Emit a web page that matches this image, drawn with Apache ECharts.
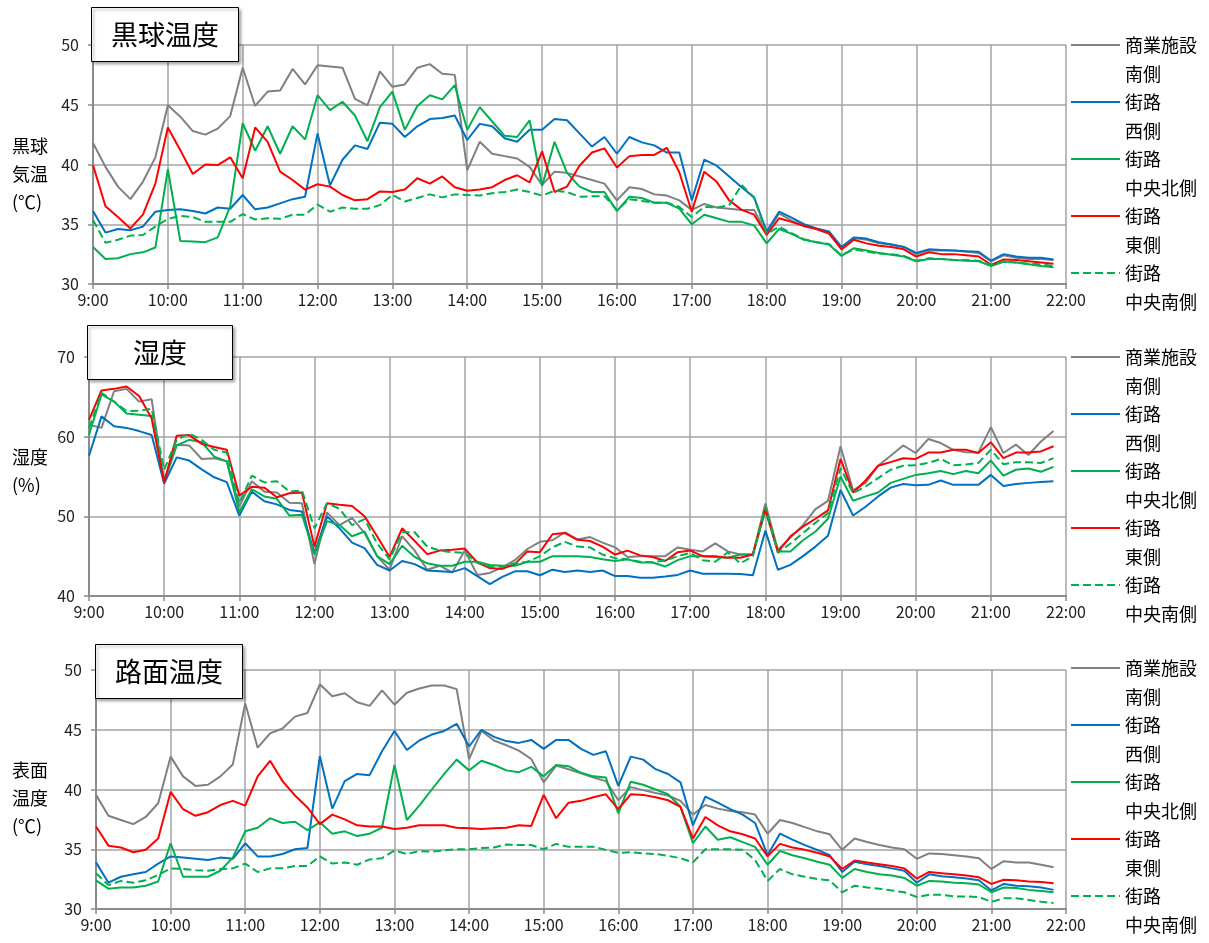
<!DOCTYPE html>
<html lang="ja">
<head>
<meta charset="utf-8">
<title>黒球温度・湿度・路面温度</title>
<script src="https://cdn.jsdelivr.net/npm/echarts@6/dist/echarts.min.js"></script>
<style>
  html, body { margin: 0; padding: 0; background: #fff; }
  #chart { width: 1209px; height: 943px; }
</style>
</head>
<body>
<div id="chart"></div>
<script>
// 測定地点(凡例)
const seriesNames = ['商業施設\n南側', '街路\n西側', '街路\n中央北側', '街路\n東側', '街路\n中央南側'];

// 10分ごとの時刻 (9:00〜22:00)
const timeLabels = [];
for (let h = 9; h < 22; h++) {
  for (let m = 0; m < 60; m += 10) timeLabels.push(h + ':' + (m === 0 ? '00' : m));
}
timeLabels.push('22:00');

// 黒球温度 (℃)
const globeShogyo = [
  41.8, 39.8, 38.15, 37.1, 38.55, 40.6,
  44.95, 44.0, 42.8, 42.5, 43.0, 44.05,
  48.1, 44.9, 46.1, 46.2, 48.0, 46.7,
  48.3, 48.2, 48.1, 45.5, 44.95, 47.8,
  46.5, 46.7, 48.1, 48.4, 47.6, 47.5,
  39.5, 41.9, 40.9, 40.7, 40.5, 39.8,
  38.3, 39.4, 39.3, 39.0, 38.7, 38.4,
  37.0, 38.1, 37.95, 37.5, 37.4, 37.0,
  36.2, 36.7, 36.4, 36.3, 36.2, 36.2,
  34.2, 35.9, 35.3, 34.85, 34.6, 34.2,
  33.0, 33.85, 33.7, 33.4, 33.3, 33.1,
  32.5, 32.8, 32.8, 32.8, 32.7, 32.6,
  31.9, 32.4, 32.2, 32.1, 32.1, 32.0
];
const globeNishi = [
  36.1, 34.3, 34.6, 34.5, 34.8, 36.05,
  36.2, 36.25, 36.1, 35.9, 36.4, 36.3,
  37.45, 36.25, 36.4, 36.75, 37.1, 37.3,
  42.6, 38.25, 40.4, 41.6, 41.3, 43.5,
  43.4, 42.3, 43.2, 43.8, 43.9, 44.1,
  42.05, 43.4, 43.2, 42.2, 41.9, 42.9,
  42.9, 43.8, 43.7, 42.6, 41.5, 42.3,
  40.9, 42.3, 41.85, 41.6, 41.0, 41.0,
  37.0, 40.4, 39.9, 39.0, 38.1, 37.25,
  34.4, 36.05, 35.55, 35.0, 34.65, 34.4,
  33.1, 33.9, 33.8, 33.5, 33.3, 33.1,
  32.6, 32.9, 32.85, 32.8, 32.75, 32.7,
  31.95, 32.5, 32.3, 32.2, 32.2, 32.05
];
const globeChuoKita = [
  33.1, 32.1, 32.15, 32.5, 32.65, 33.05,
  39.6, 33.6, 33.55, 33.5, 33.9, 36.5,
  43.45, 41.15, 43.2, 40.9, 43.2, 42.1,
  45.8, 44.55, 45.25, 44.1, 41.95, 44.8,
  46.1, 42.9, 44.9, 45.8, 45.45, 46.65,
  42.9, 44.8, 43.6, 42.4, 42.3, 43.7,
  38.2, 41.9, 39.3, 38.15, 37.7, 37.7,
  36.1, 37.3, 37.2, 36.8, 36.8, 36.3,
  35.0, 35.8, 35.5, 35.2, 35.2, 34.9,
  33.4, 34.6, 34.2, 33.7, 33.5, 33.3,
  32.35, 33.0, 32.8, 32.6, 32.45, 32.3,
  31.9, 32.1, 32.1, 32.0, 31.95, 31.9,
  31.5, 31.85, 31.8, 31.65, 31.5, 31.4
];
const globeHigashi = [
  39.95, 36.5, 35.6, 34.65, 35.8, 38.4,
  43.1, 41.2, 39.2, 40.0, 39.95, 40.6,
  38.85, 43.1, 41.9, 39.4, 38.7, 37.9,
  38.35, 38.15, 37.45, 37.0, 37.1, 37.75,
  37.7, 37.9, 38.85, 38.4, 39.0, 38.1,
  37.8, 37.9, 38.1, 38.7, 39.1, 38.5,
  41.1, 37.7, 38.15, 39.9, 41.0, 41.35,
  39.75, 40.7, 40.8, 40.8, 41.4, 39.35,
  36.05, 39.4, 38.55, 37.0, 36.2, 35.8,
  34.1, 35.5, 35.2, 34.85, 34.6, 34.25,
  32.9, 33.7, 33.4, 33.2, 33.1, 32.9,
  32.3, 32.65, 32.5, 32.5, 32.4, 32.3,
  31.6, 32.05, 32.0, 31.9, 31.8, 31.7
];
const globeChuoMinami = [
  35.35, 33.45, 33.7, 34.05, 34.1, 34.8,
  35.45, 35.7, 35.6, 35.2, 35.2, 35.2,
  35.85, 35.4, 35.5, 35.45, 35.8, 35.8,
  36.65, 36.05, 36.4, 36.3, 36.3, 36.6,
  37.45, 36.9, 37.2, 37.5, 37.25, 37.5,
  37.45, 37.4, 37.6, 37.7, 37.9, 37.7,
  37.4, 37.8, 37.7, 37.3, 37.35, 37.35,
  36.2, 37.1, 36.95, 36.8, 36.8, 36.45,
  35.6, 36.45, 36.4, 36.6, 38.3, 37.2,
  34.2, 34.8, 34.25, 33.75, 33.5, 33.35,
  32.4, 32.9, 32.7, 32.55, 32.5, 32.35,
  31.95, 32.15, 32.1, 32.0, 32.0, 31.95,
  31.6, 31.9, 31.8, 31.7, 31.65, 31.5
];

// 湿度 (%)
const humShogyo = [
  61.5, 61.1, 65.7, 66.0, 64.4, 64.7,
  54.2, 59.0, 58.9, 57.2, 57.3, 56.9,
  51.25, 54.4, 53.1, 53.0, 51.7, 51.65,
  44.0, 50.5, 48.9, 49.8, 47.9, 45.0,
  43.3, 47.5, 45.7, 43.3, 43.8, 42.95,
  45.7, 42.65, 42.9, 43.6, 44.5, 45.9,
  46.8, 47.0, 48.0, 47.1, 47.4, 46.7,
  46.1, 44.9, 45.0, 45.0, 45.0, 46.1,
  45.8, 45.6, 46.6, 45.6, 45.2, 45.2,
  51.6, 45.8, 47.3, 48.9, 50.9, 51.95,
  58.8, 53.25, 54.2, 56.35, 57.6, 58.9,
  57.95, 59.7, 59.2, 58.35, 58.05, 58.0,
  61.2, 57.95, 59.0, 57.7, 59.4, 60.7
];
const humNishi = [
  57.6, 62.55, 61.3, 61.1, 60.7, 60.2,
  54.1, 57.4, 57.0, 55.9, 54.9, 54.3,
  50.1, 53.1, 51.9, 51.5, 50.8, 50.6,
  45.4, 50.0, 48.5, 46.7, 46.0, 43.9,
  43.2, 44.4, 44.0, 43.2, 43.1, 43.0,
  43.5, 42.5, 41.5, 42.4, 43.1, 43.1,
  42.6, 43.3, 43.0, 43.2, 43.0, 43.2,
  42.5, 42.5, 42.3, 42.3, 42.45, 42.65,
  43.2, 42.8, 42.8, 42.8, 42.75, 42.6,
  48.2, 43.3, 43.9, 45.0, 46.2, 47.55,
  53.3, 50.1, 51.2, 52.5, 53.6, 54.05,
  53.9, 53.95, 54.5, 53.95, 53.95, 53.95,
  55.2, 53.8, 54.05, 54.2, 54.3, 54.4
];
const humChuoKita = [
  60.2, 65.3, 64.4, 62.9, 62.75, 62.6,
  54.5, 58.9, 59.6, 59.3, 57.5, 56.9,
  50.5, 53.4, 52.5, 52.2, 50.1, 50.2,
  45.2, 49.4, 48.9, 47.5, 48.1, 45.0,
  44.0, 46.3, 44.9, 44.1, 43.8, 43.8,
  44.3, 44.3, 43.9, 43.8, 43.8, 44.3,
  44.3, 45.0, 45.0, 45.0, 44.9, 44.6,
  44.4, 44.6, 44.2, 44.2, 43.7, 44.5,
  45.0, 45.0, 44.9, 44.8, 45.2, 45.2,
  50.7, 45.6, 45.6, 47.0, 48.1, 49.7,
  55.0, 51.95, 52.5, 53.0, 54.2, 54.7,
  55.2, 55.4, 55.7, 55.3, 55.7, 55.4,
  57.0, 55.1, 55.85, 56.0, 55.6, 56.2
];
const humHigashi = [
  62.1, 65.8, 66.0, 66.3, 65.1, 62.3,
  54.25, 60.1, 60.2, 59.1, 58.7, 58.35,
  52.6, 53.7, 53.6, 52.4, 52.9, 53.0,
  46.2, 51.65, 51.45, 51.3, 50.0, 47.5,
  44.9, 48.5, 46.9, 45.25, 45.7, 45.8,
  45.95, 44.2, 43.5, 43.4, 44.0, 45.6,
  45.5, 47.75, 47.9, 47.05, 46.9, 46.2,
  45.2, 45.7, 45.1, 44.9, 44.4, 45.5,
  45.7, 45.0, 45.0, 44.8, 44.8, 45.2,
  51.0, 45.5, 47.5, 48.7, 49.7, 50.75,
  57.2, 53.0, 54.5, 56.35, 56.8, 57.3,
  57.2, 58.0, 58.0, 58.35, 58.35, 57.95,
  59.3, 57.3, 58.0, 58.0, 58.15, 58.8
];
const humChuoMinami = [
  61.1, 65.5, 64.4, 63.2, 63.25, 63.5,
  55.85, 59.6, 60.4, 59.6, 58.35, 58.0,
  51.65, 55.1, 54.25, 54.4, 53.1, 53.25,
  48.5, 51.65, 50.95, 48.9, 49.65, 46.6,
  44.6, 48.0, 48.0, 46.2, 45.7, 45.5,
  45.4, 44.2, 43.7, 43.7, 44.1, 44.3,
  45.0, 46.1, 46.8, 46.2, 46.1, 45.2,
  44.75, 44.6, 44.3, 44.25, 44.45, 45.0,
  45.4, 44.5, 44.3, 45.5, 44.1, 45.0,
  51.2, 45.4, 46.6, 47.9, 49.2, 50.4,
  56.05, 52.9, 53.75, 54.8, 55.85, 56.35,
  56.4, 56.7, 57.2, 56.4, 56.5, 56.7,
  58.35, 56.55, 56.8, 56.8, 56.7, 57.3
];

// 路面温度 (℃)
const roadShogyo = [
  39.55, 37.8, 37.45, 37.1, 37.7, 38.85,
  42.75, 41.1, 40.3, 40.4, 41.1, 42.1,
  47.2, 43.5, 44.7, 45.1, 46.1, 46.4,
  48.8, 47.8, 48.05, 47.3, 47.0, 48.3,
  47.1, 48.1, 48.45, 48.7, 48.7, 48.4,
  42.55, 44.9, 44.1, 43.7, 43.25, 42.55,
  40.6, 42.0, 41.7, 41.35, 41.0, 40.7,
  39.1, 40.2, 39.95, 39.7, 39.5, 39.05,
  37.9, 38.7, 38.4, 38.2, 38.1, 37.9,
  36.3, 37.45, 37.2, 36.85, 36.5, 36.25,
  34.95, 35.9, 35.6, 35.35, 35.15, 35.0,
  34.2, 34.65, 34.6, 34.5, 34.4, 34.25,
  33.35, 34.0, 33.9, 33.9, 33.7, 33.5
];
const roadNishi = [
  33.9, 32.2, 32.7, 32.9, 33.1, 33.8,
  34.4, 34.3, 34.2, 34.1, 34.3, 34.2,
  35.5, 34.4, 34.4, 34.6, 35.0, 35.1,
  42.8, 38.4, 40.7, 41.3, 41.2, 43.2,
  44.9, 43.3, 44.1, 44.6, 44.9, 45.5,
  43.6, 45.0, 44.4, 44.05, 43.9, 44.15,
  43.4, 44.15, 44.15, 43.4, 42.9, 43.2,
  40.3, 42.75, 42.5, 41.7, 41.3, 40.6,
  37.0, 39.4, 38.9, 38.35, 37.9, 37.2,
  34.5, 36.3, 35.8, 35.35, 34.95, 34.5,
  33.1, 33.95, 33.75, 33.6, 33.4, 33.2,
  32.2, 32.9, 32.75, 32.65, 32.55, 32.4,
  31.55, 32.1, 31.95, 31.9, 31.8, 31.6
];
const roadChuoKita = [
  32.4, 31.7, 31.8, 31.8, 31.95, 32.3,
  35.5, 32.7, 32.7, 32.7, 33.2, 34.3,
  36.5, 36.8, 37.6, 37.2, 37.3, 36.6,
  37.25, 36.3, 36.5, 36.1, 36.3, 36.8,
  42.05, 37.45, 38.65, 40.0, 41.3, 42.5,
  41.6, 42.4, 42.05, 41.6, 41.45, 41.9,
  41.1, 42.05, 41.95, 41.4, 41.1, 41.0,
  38.0, 40.65, 40.4, 40.0, 39.6, 38.55,
  35.5, 36.9, 35.8, 36.0, 35.6, 35.2,
  33.7, 34.85, 34.5, 34.25, 33.95, 33.7,
  32.6, 33.35, 33.1, 32.9, 32.8, 32.6,
  31.95, 32.35, 32.3, 32.2, 32.15, 32.05,
  31.4, 31.8, 31.75, 31.6, 31.5, 31.4
];
const roadHigashi = [
  36.9, 35.3, 35.15, 34.75, 34.95, 35.9,
  39.8, 38.35, 37.8, 38.1, 38.7, 39.05,
  38.65, 41.1, 42.4, 40.7, 39.5, 38.5,
  37.1, 37.9, 37.5, 37.0, 36.9, 36.9,
  36.7, 36.8, 37.0, 37.0, 37.0, 36.8,
  36.75, 36.7, 36.75, 36.8, 37.0, 36.95,
  39.55, 37.6, 38.9, 39.05, 39.35, 39.6,
  38.35, 39.6, 39.55, 39.35, 39.1, 38.55,
  35.9, 37.7, 37.0, 36.5, 36.25, 35.9,
  34.4, 35.45, 35.15, 34.95, 34.7, 34.4,
  33.35, 34.05, 33.9, 33.75, 33.6, 33.4,
  32.55, 33.1, 33.0, 32.9, 32.8, 32.65,
  32.1, 32.45, 32.4, 32.3, 32.25, 32.15
];
const roadChuoMinami = [
  33.0, 32.0, 32.35, 32.2, 32.4, 32.85,
  33.4, 33.35, 33.25, 33.2, 33.35, 33.4,
  33.8, 33.1, 33.4, 33.4, 33.6, 33.6,
  34.4, 33.8, 33.9, 33.7, 34.15, 34.25,
  34.9, 34.6, 34.85, 34.8, 34.9, 35.0,
  35.0, 35.1, 35.15, 35.4, 35.35, 35.35,
  35.0, 35.45, 35.2, 35.2, 35.2, 34.95,
  34.7, 34.75, 34.65, 34.6, 34.45, 34.25,
  33.9, 35.0, 35.0, 35.0, 34.95, 34.1,
  32.35, 33.35, 32.9, 32.7, 32.5, 32.4,
  31.4, 31.95, 31.8, 31.7, 31.55, 31.4,
  31.0, 31.2, 31.2, 31.05, 31.05, 31.0,
  30.6, 30.9, 30.9, 30.75, 30.6, 30.5
];

const panelData = [
  [globeShogyo, globeNishi, globeChuoKita, globeHigashi, globeChuoMinami],
  [humShogyo, humNishi, humChuoKita, humHigashi, humChuoMinami],
  [roadShogyo, roadNishi, roadChuoKita, roadHigashi, roadChuoMinami]
];

const FONT = '"Noto Sans CJK JP", "Noto Sans", sans-serif';
const lineColors = ['#808080', '#0070C0', '#00B050', '#FF0000', '#00B050'];
const lineTypes = ['solid', 'solid', 'solid', 'solid', 'dashed'];

// パネルごとの配置と目盛り ({sp| } は縦位置調整用の空行)
const panels = [
  { title: '黒球温度', titleLeft: 91, titleTop: 7, titlePad: [11, 20, 11, 20],
    yName: '{sp| }\n黒球\n気温\n(℃)', spacer: 20,
    left: 93, top: 45, min: 30, max: 50, interval: 5, legendTop: 1.5 },
  { title: '湿度', titleLeft: 87, titleTop: 325, titlePad: [11, 46, 11, 46],
    yName: '湿度\n(%)\n{sp| }', spacer: 11,
    left: 89, top: 357, min: 40, max: 70, interval: 10, legendTop: 313.5 },
  { title: '路面温度', titleLeft: 95, titleTop: 644, titlePad: [11, 20, 11, 20],
    yName: '{sp| }\n表面\n温度\n(℃)', spacer: 18,
    left: 96, top: 670, min: 30, max: 50, interval: 5, legendTop: 624.5 }
];

const hourOnly = (idx) => idx % 6 === 0;

const option = {
  animation: false,
  backgroundColor: '#ffffff',
  textStyle: { fontFamily: FONT },
  title: panels.map(p => ({
    text: p.title,
    left: p.titleLeft,
    top: p.titleTop,
    padding: p.titlePad,
    backgroundColor: '#ffffff',
    borderColor: '#000000',
    borderWidth: 1,
    shadowColor: 'rgba(0,0,0,0.35)',
    shadowBlur: 3,
    shadowOffsetX: 2,
    shadowOffsetY: 2,
    textStyle: { fontFamily: FONT, fontSize: 27, fontWeight: 'normal', color: '#000', lineHeight: 33 }
  })),
  // 凡例: 線は各項目の1行目に揃える(先頭に空行を置いて中央揃え)
  legend: panels.map(p => ({
    data: seriesNames,
    orient: 'vertical',
    left: 1070,
    top: p.legendTop,
    height: 330,
    padding: 0,
    itemWidth: 49,
    itemHeight: 14,
    itemGap: -30,
    selectedMode: false,
    formatter: (name) => ' \n' + name,
    itemStyle: { opacity: 0 },
    textStyle: { fontFamily: FONT, fontSize: 18, color: '#000', lineHeight: 29 }
  })),
  grid: panels.map(p => ({ left: p.left, right: 143, top: p.top, height: 239 })),
  xAxis: panels.map((p, i) => ({
    type: 'category',
    gridIndex: i,
    data: timeLabels,
    boundaryGap: false,
    axisLine: { lineStyle: { color: '#8c8c8c', width: 2 } },
    axisTick: { show: true, interval: hourOnly, length: 5, lineStyle: { color: '#8c8c8c', width: 1.5 } },
    axisLabel: { interval: hourOnly, margin: 8, fontFamily: FONT, fontSize: 16, color: '#222' },
    splitLine: { show: true, interval: hourOnly, lineStyle: { color: '#a3a3a3', width: 1.5 } }
  })),
  yAxis: panels.map((p, i) => ({
    type: 'value',
    gridIndex: i,
    min: p.min,
    max: p.max,
    interval: p.interval,
    name: p.yName,
    nameLocation: 'middle',
    nameRotate: 0,
    nameGap: p.left - 12,
    nameTextStyle: {
      fontFamily: FONT, fontSize: 18, color: '#000', lineHeight: 28,
      align: 'left', verticalAlign: 'middle',
      rich: { sp: { fontSize: 10, lineHeight: p.spacer, height: p.spacer } }
    },
    axisLine: { show: true, lineStyle: { color: '#8c8c8c', width: 2 } },
    axisTick: { show: true, length: 5, lineStyle: { color: '#8c8c8c', width: 1.5 } },
    axisLabel: { margin: 14, fontFamily: FONT, fontSize: 16, color: '#222' },
    splitLine: { show: true, lineStyle: { color: '#a3a3a3', width: 1.5 } }
  })),
  series: []
};

panelData.forEach((group, gi) => {
  group.forEach((values, si) => {
    option.series.push({
      name: seriesNames[si],
      type: 'line',
      xAxisIndex: gi,
      yAxisIndex: gi,
      data: values,
      symbol: 'none',
      showSymbol: false,
      z: si === 0 ? 2 : 3,
      lineStyle: { color: lineColors[si], width: 2, type: lineTypes[si] },
      itemStyle: { color: lineColors[si] }
    });
  });
});

const chart = echarts.init(document.getElementById('chart'), null, { renderer: 'canvas' });
chart.setOption(option);
</script>
</body>
</html>
